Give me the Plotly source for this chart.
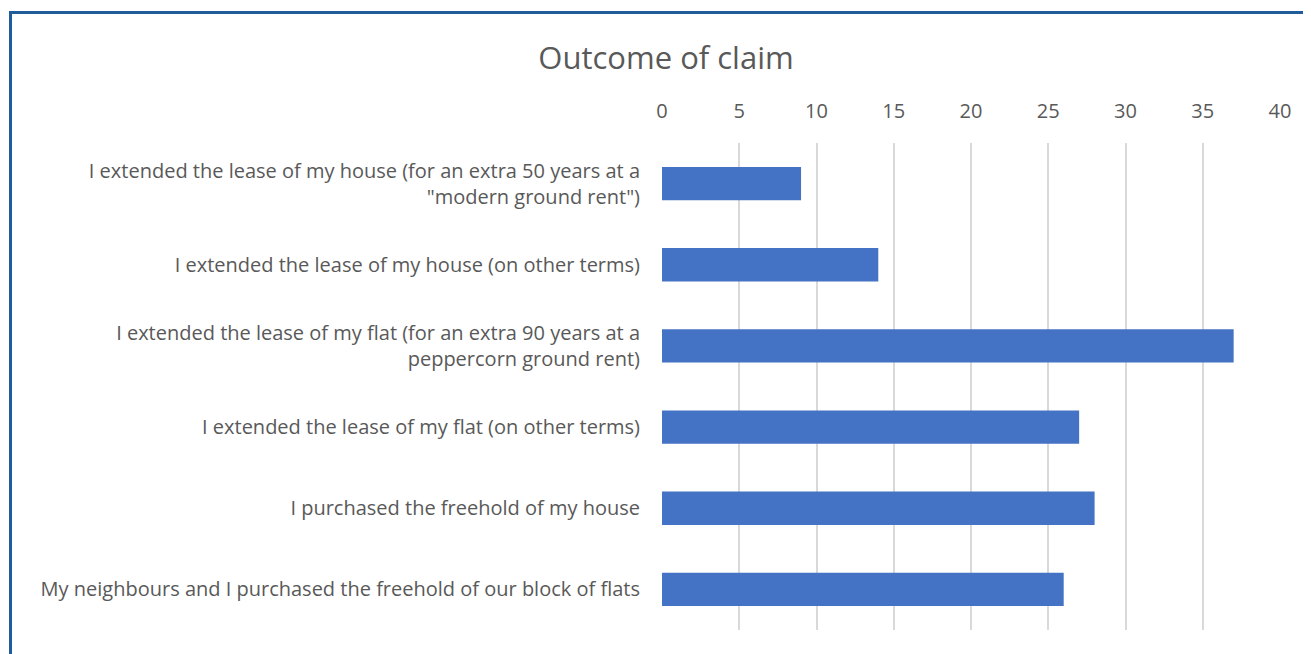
import plotly.graph_objects as go

categories = [
    'I extended the lease of my house (for an extra 50 years at a<br>"modern ground rent")',
    'I extended the lease of my house (on other terms)',
    'I extended the lease of my flat (for an extra 90 years at a<br>peppercorn ground rent)',
    'I extended the lease of my flat (on other terms)',
    'I purchased the freehold of my house',
    'My neighbours and I purchased the freehold of our block of flats',
]
values = [9, 14, 37, 27, 28, 26]
tick_vals = [0, 5, 10, 15, 20, 25, 30, 35, 40]

# page body has an 8px margin; compensate
OFF = 8
W, H = 1311 - OFF, 654 - OFF
L, R, T, B = 662 - OFF, 1280 - OFF, 143 - OFF, 630 - OFF

fig = go.Figure(go.Bar(
    x=values, y=categories, orientation="h",
    marker=dict(color="#4472C4", line=dict(width=0)),
    width=0.41,
))

def px_x(p):
    return (p - OFF - L) / (R - L)

def px_y(p):
    return (B - (p - OFF)) / (B - T)

fig.add_shape(type="rect", xref="paper", yref="paper",
              x0=px_x(10.5), x1=px_x(1340), y0=px_y(700), y1=px_y(12.5),
              line=dict(color="#1F5C99", width=3), fillcolor="rgba(0,0,0,0)", layer="above")

fig.update_layout(
    width=W, height=H,
    margin=dict(l=L, r=W - R, t=T, b=H - B),
    paper_bgcolor="white", plot_bgcolor="white",
    font=dict(family="Open Sans, Lato, sans-serif", color="#595959", size=20),
    title=dict(text="Outcome of claim", x=(666 - OFF) / W, xanchor="center",
               y=1 - (58 - OFF) / H, yanchor="middle",
               font=dict(size=31, color="#595959")),
    showlegend=False,
    bargap=0.6,
)
fig.update_xaxes(
    side="top", range=[0, 40], tickvals=tick_vals,
    showgrid=True, gridcolor="#D9D9D9", gridwidth=1.5,
    zeroline=False, showline=False, ticks="",
    ticklabelstandoff=20, tickfont=dict(size=20, color="#595959"),
)
fig.update_yaxes(
    autorange="reversed", showgrid=False, zeroline=False, showline=False,
    ticks="", ticklabelstandoff=21, tickfont=dict(size=20, color="#595959"),
)

fig.write_html("out.html")
